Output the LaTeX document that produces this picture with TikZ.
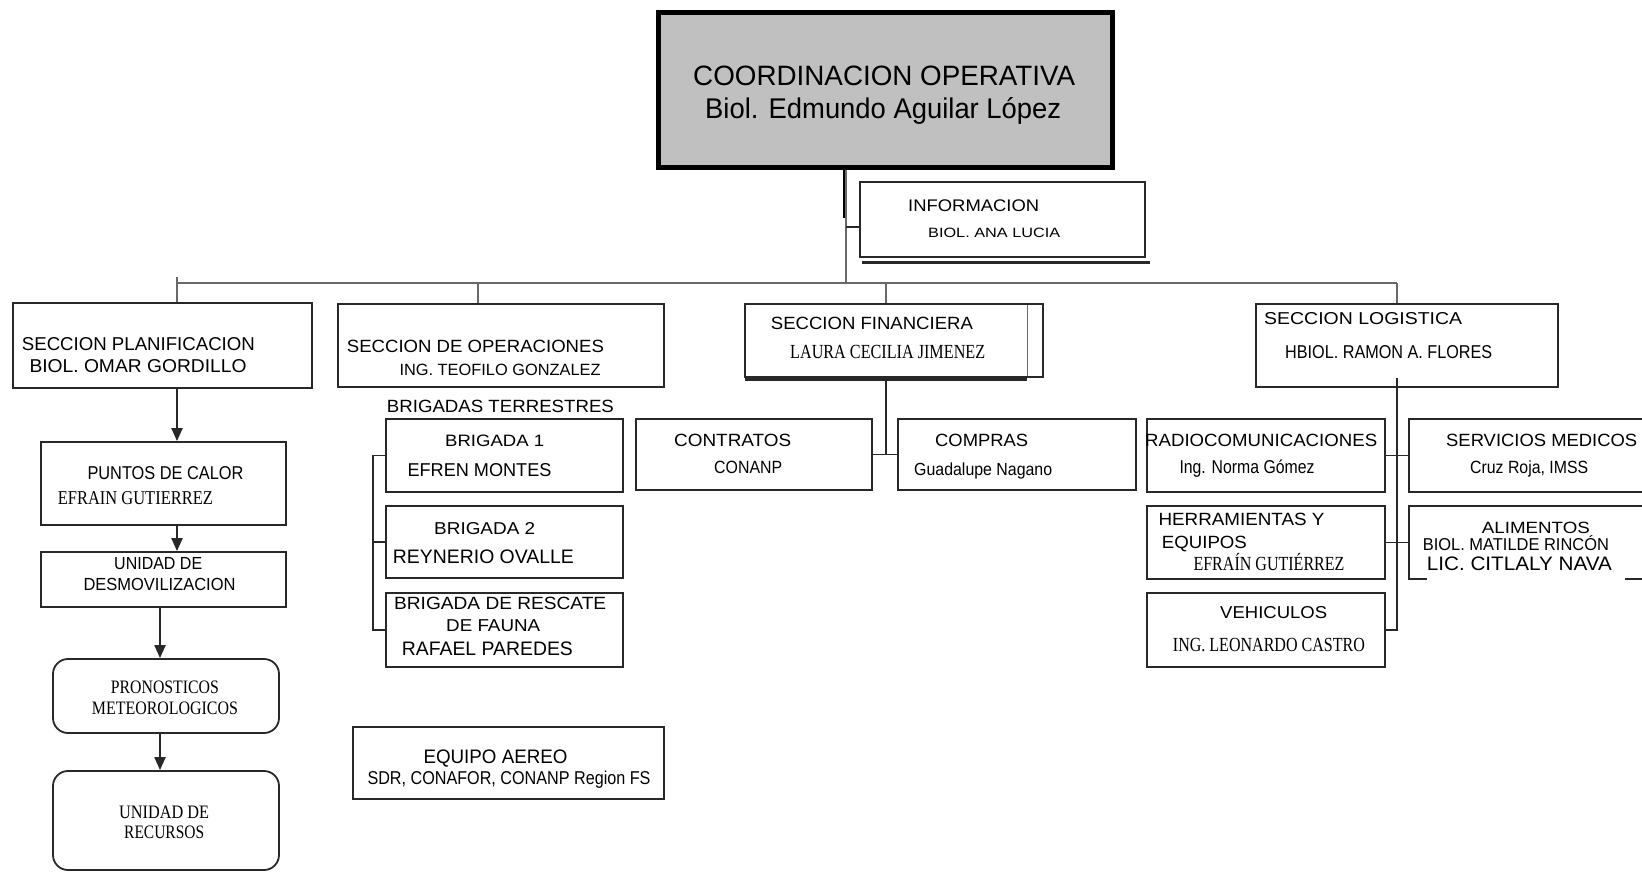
\documentclass[tikz,border=0pt]{standalone}
\usepackage{fontspec}
\setmainfont{Liberation Sans}
\newfontfamily\serf{Liberation Serif}
\usepackage{graphicx}
\usetikzlibrary{arrows.meta,shadows}
\definecolor{bcol}{RGB}{40,40,40}
\definecolor{buscol}{RGB}{105,105,105}
\definecolor{maingray}{RGB}{192,192,192}
\newcommand\mybx[6][]{\node[box,#1,minimum width={#5-#3},minimum height={#6-#4}] (#2) at ({(#3+#5)/2},{(#4+#6)/2}) {};}
\newcommand\mytx[6]{\node[anchor=base west,inner sep=0pt] (#1) at (#2,#3) {\resizebox{#4pt}{\height}{\fontsize{#5}{#5}\selectfont #6}};}
\newcommand\mytxr[6]{\node[anchor=base west,inner sep=0pt] (#1) at (#2,#3) {\resizebox{#4pt}{\height}{\serf\fontsize{#5}{#5}\selectfont #6}};}
\tikzset{
  box/.style={draw=bcol,line width=1.8pt,fill=white,inner sep=0pt,rectangle},
  rbox/.style={box,rounded corners=15pt},
  bus/.style={draw=buscol,line width=2pt},
  conn/.style={draw=bcol,line width=1.8pt},
  arr/.style={draw=bcol,line width=2pt,-{Triangle[width=11pt,length=13pt]}},
}
\begin{document}
\begin{tikzpicture}[x=1pt,y=-1pt]
\useasboundingbox (0,0) rectangle (1642,871);
\clip (0,0) rectangle (1642,871);
% boxes
\mybx[draw=black,line width=5pt,fill=maingray,drop shadow={shadow xshift=2pt,shadow yshift=-3pt,opacity=1,fill=black}]{main}{658}{12}{1112}{167}
\mybx{info}{860}{182}{1145}{257}
\draw[line width=3pt,bcol] (862,262.5) -- (1150,262.5);
\mybx{plan}{13}{303}{312}{388}
\mybx{ops}{338}{304}{664}{387}
\mybx{fin}{745}{304}{1043}{377}
\draw[line width=1pt,buscol] (1027,305) -- (1027,376);
\draw[line width=3pt,bcol] (745,379) -- (1027,379);
\mybx{log}{1256}{304}{1558}{387}
\mybx{puntos}{41}{442}{286}{525}
\mybx{desmov}{41}{552}{286}{607}
\mybx[rbox]{pron}{53}{659}{279}{733}
\mybx[rbox]{recur}{53}{771}{279}{870}
\mybx{brig1}{386}{419}{623}{492}
\mybx{brig2}{386}{506}{623}{578}
\mybx{brig3}{386}{593}{623}{667}
\mybx{contr}{636}{419}{872}{490}
\mybx{compr}{898}{419}{1136}{490}
\mybx{radio}{1147}{419}{1385}{492}
\mybx{herr}{1147}{506}{1385}{579}
\mybx{veh}{1147}{593}{1385}{667}
\mybx{serv}{1409}{419}{1660}{492}
\mybx{alim}{1409}{506}{1660}{579}
\fill[white] (1427,576) rectangle (1625,582);
\mybx{aereo}{353}{727}{664}{799}
% connectors
\coordinate (bl) at (177,283);
\coordinate (bo) at (478,283);
\coordinate (bm) at (846,283);
\coordinate (bf) at (886,283);
\coordinate (br) at (1397,283);
\coordinate (mt) at (845,218);
\coordinate (it) at (846,227);
\draw[bus] (bl) -- (br);
\draw[bus] (177,277 |- bl) ++(0,-6) -- (plan.north -| bl);
\draw[bus] (bo) -- (ops.north -| bo);
\draw[bus] (bf) -- (fin.north -| bf);
\draw[bus] (br) -- (log.north -| br);
\draw[line width=3.5pt,black] (main.south -| mt) -- (mt);
\draw[bus] (main.south -| bm) -- (bm);
\draw[conn] (it) -- (info.west |- it);
\coordinate (ax1) at (177,0);
\coordinate (ax2) at (160,0);
\draw[arr] (plan.south -| ax1) -- (puntos.north -| ax1);
\draw[arr] (puntos.south -| ax1) -- (desmov.north -| ax1);
\draw[arr] (desmov.south -| ax2) -- (pron.north -| ax2);
\draw[arr] (pron.south -| ax2) -- (recur.north -| ax2);
\coordinate (bk) at (373,0);
\draw[conn] (brig1.west) -| (bk |- brig3.west) -- (brig3.west);
\draw[conn] (bk |- brig2.west) -- (brig2.west);
\draw[conn] (fin.south -| bf) -- (bf |- contr.east);
\draw[conn] (contr.east) -- (compr.west);
\coordinate (lg) at (1397,378);
\draw[conn,line width=2.5pt] (lg) -- (lg |- veh.east) -- (veh.east);
\draw[conn] (radio.east) -- (serv.west);
\draw[conn] (herr.east) -- (alim.west);
% texts
\mytx{t1}{693}{85}{382}{28}{COORDINACION OPERATIVA}
\mytx{t2}{705}{118}{356}{28.5}{Biol. Edmundo Aguilar López}
\mytx{t3}{908}{211}{131}{16.8}{INFORMACION}
\mytx{t4}{928}{237}{132}{13.5}{BIOL. ANA LUCIA}
\mytx{t5}{21.7}{350.7}{233}{18.6}{SECCION PLANIFICACION}
\mytx{t6}{29.3}{372.3}{217}{18.6}{BIOL. OMAR GORDILLO}
\mytx{t7}{87.3}{479.3}{156}{18.6}{PUNTOS DE CALOR}
\mytxr{t8}{57.7}{504}{155}{19.6}{EFRAIN GUTIERREZ}
\mytx{t9}{114}{569.5}{88}{17.5}{UNIDAD DE}
\mytx{t10}{83.3}{590.7}{152}{17.5}{DESMOVILIZACION}
\mytxr{t11}{110.7}{693.3}{108}{19}{PRONOSTICOS}
\mytxr{t12}{91.7}{714}{146}{19}{METEOROLOGICOS}
\mytxr{t13}{119}{818.3}{90}{19}{UNIDAD DE}
\mytxr{t14}{124}{838.3}{80}{19}{RECURSOS}
\mytx{t15}{346.7}{352.7}{257}{17.7}{SECCION DE OPERACIONES}
\mytx{t16}{399.3}{375}{201}{16.3}{ING. TEOFILO GONZALEZ}
\mytx{t17}{386.7}{412.7}{227}{17.7}{BRIGADAS TERRESTRES}
\mytx{t18}{445}{446.7}{99}{16.5}{BRIGADA 1}
\mytx{t19}{407.3}{476.7}{144}{18.6}{EFREN MONTES}
\mytx{t20}{434}{534}{101}{17.2}{BRIGADA 2}
\mytx{t21}{392.7}{563.3}{181}{19.5}{REYNERIO OVALLE}
\mytx{t22}{394}{609.3}{212}{17.7}{BRIGADA DE RESCATE}
\mytx{t23}{446}{631.7}{94}{17.2}{DE FAUNA}
\mytx{t24}{401.7}{655.7}{171}{19.5}{RAFAEL PAREDES}
\mytx{t25}{770.7}{329.3}{202}{17.7}{SECCION FINANCIERA}
\mytxr{t26}{790}{358.3}{195}{20}{LAURA CECILIA JIMENEZ}
\mytx{t27}{674}{446.7}{117}{17.7}{CONTRATOS}
\mytx{t28}{714}{473.3}{68}{17.7}{CONANP}
\mytx{t29}{935}{446.7}{93}{17.7}{COMPRAS}
\mytx{t30}{914}{475}{138}{17.5}{Guadalupe Nagano}
\mytx{t31}{1264}{324}{198}{17.2}{SECCION LOGISTICA}
\mytx{t32}{1285}{358.3}{207}{18.6}{HBIOL. RAMON A. FLORES}
\mytx{t33}{1145}{446.7}{232}{17.7}{RADIOCOMUNICACIONES}
\mytx{t34}{1179.3}{473.3}{135}{18.6}{Ing. Norma Gómez}
\mytx{t35}{1446}{446.7}{191}{17.7}{SERVICIOS MEDICOS}
\mytx{t36}{1470}{473.3}{118}{17.7}{Cruz Roja, IMSS}
\mytx{t37}{1158.3}{525}{166}{17.7}{HERRAMIENTAS Y}
\mytx{t38}{1161.7}{548.3}{85}{17.7}{EQUIPOS}
\mytxr{t39}{1193.3}{570}{151}{20}{EFRAÍN GUTIÉRREZ}
\mytx{t40}{1481.7}{533.3}{108}{16.3}{ALIMENTOS}
\mytx{t41}{1422.7}{550.7}{186}{17.2}{BIOL. MATILDE RINCÓN}
\mytx{t42}{1426.7}{570.7}{185}{19.5}{LIC. CITLALY NAVA}
\mytx{t43}{1220}{618.3}{107}{17.2}{VEHICULOS}
\mytxr{t44}{1172.7}{651.7}{192}{20}{ING. LEONARDO CASTRO}
\mytx{t45}{423.3}{763.3}{144}{19.5}{EQUIPO AEREO}
\mytx{t46}{367.3}{784}{283}{18.6}{SDR, CONAFOR, CONANP Region FS}
\end{tikzpicture}
\end{document}
